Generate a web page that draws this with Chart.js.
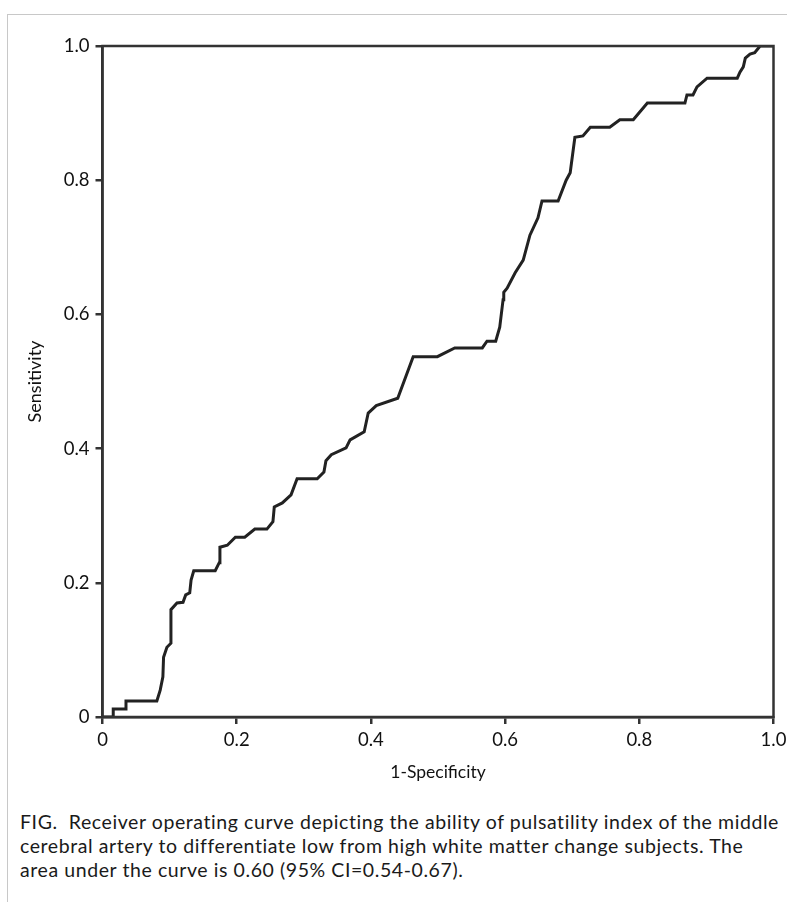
<!DOCTYPE html>
<html>
<head>
<meta charset="utf-8">
<script src="https://cdn.jsdelivr.net/npm/chart.js@4"></script>
<style>
  html, body { margin: 0; padding: 0; background: #fff; }
  body { width: 787px; height: 902px; position: relative; overflow: hidden; font-family: Lato, "Open Sans", sans-serif; }
  #frame { position: absolute; left: 7px; top: 14px; width: 900px; height: 1000px; border-left: 1.5px solid #c8c8c8; border-top: 1.5px solid #c8c8c8; }
  #wrap { position: absolute; left: 0; top: 0; width: 787px; height: 790px; }
  #caption { position: absolute; left: 20px; top: 810px; width: 780px; font-size: 19.5px; letter-spacing: 0.58px; line-height: 24px; color: #1a1a1a; white-space: nowrap; }
</style>
</head>
<body>
<div id="frame"></div>
<div id="wrap"><canvas id="c"></canvas></div>
<div id="caption">FIG.&nbsp; Receiver operating curve depicting the ability of pulsatility index of the middle<br>cerebral artery to differentiate low from high white matter change subjects. The<br>area under the curve is 0.60 (95% CI=0.54-0.67).</div>
<script>
// 1-Specificity (false positive rate) values along the ROC curve
const fpr = [0, 0.016, 0.016, 0.035, 0.035, 0.081, 0.086, 0.090, 0.091, 0.096, 0.102, 0.102, 0.111, 0.120, 0.124, 0.130, 0.132, 0.136, 0.168, 0.174, 0.175, 0.186, 0.198, 0.212, 0.227, 0.245, 0.254, 0.256, 0.268, 0.281, 0.290, 0.320, 0.330, 0.333, 0.341, 0.363, 0.369, 0.390, 0.396, 0.408, 0.440, 0.463, 0.499, 0.525, 0.566, 0.573, 0.586, 0.592, 0.597, 0.598, 0.603, 0.615, 0.627, 0.637, 0.649, 0.655, 0.679, 0.691, 0.697, 0.704, 0.716, 0.727, 0.756, 0.771, 0.791, 0.812, 0.868, 0.871, 0.880, 0.886, 0.901, 0.946, 0.950, 0.955, 0.958, 0.965, 0.972, 0.980, 1.0];
// Sensitivity values along the ROC curve
const tpr = [0, 0, 0.012, 0.012, 0.024, 0.024, 0.040, 0.060, 0.089, 0.104, 0.110, 0.160, 0.170, 0.171, 0.182, 0.185, 0.204, 0.218, 0.218, 0.230, 0.253, 0.256, 0.268, 0.268, 0.280, 0.280, 0.291, 0.313, 0.319, 0.331, 0.355, 0.355, 0.365, 0.382, 0.391, 0.401, 0.413, 0.425, 0.453, 0.464, 0.475, 0.537, 0.537, 0.550, 0.550, 0.560, 0.560, 0.581, 0.622, 0.633, 0.639, 0.662, 0.681, 0.718, 0.744, 0.769, 0.769, 0.800, 0.811, 0.864, 0.866, 0.879, 0.879, 0.890, 0.890, 0.915, 0.915, 0.927, 0.927, 0.939, 0.952, 0.952, 0.961, 0.969, 0.982, 0.988, 0.990, 1.0, 1.0];
const xTicks = ['0', '0.2', '0.4', '0.6', '0.8', '1.0'];
const yTicks = ['0', '0.2', '0.4', '0.6', '0.8', '1.0'];
const xTitle = '1-Specificity';
const yTitle = 'Sensitivity';

const points = fpr.map((x, i) => ({ x: x, y: tpr[i] }));
const FONT = 'Lato, "Open Sans", sans-serif';
const AX = '#333333';

const framePlugin = {
  id: 'frameBox',
  afterDatasetsDraw(chart) {
    const a = chart.chartArea, ctx = chart.ctx;
    ctx.save();
    ctx.strokeStyle = AX;
    ctx.lineWidth = 2.5;
    ctx.strokeRect(a.left, a.top, a.right - a.left, a.bottom - a.top);
    ctx.restore();
  }
};

new Chart(document.getElementById('c'), {
  type: 'scatter',
  data: {
    datasets: [{
      data: points,
      showLine: true,
      borderColor: '#222222',
      borderWidth: 3,
      pointRadius: 0,
      tension: 0,
      fill: false
    }]
  },
  options: {
    responsive: true,
    maintainAspectRatio: false,
    animation: false,
    layout: { padding: { top: 46, right: 13.5, left: 0, bottom: 0 } },
    plugins: { legend: { display: false }, tooltip: { enabled: false } },
    scales: {
      x: {
        type: 'linear', min: 0, max: 1,
        afterFit(s) { s.height = 73; s.paddingLeft = 0; s.paddingRight = 0; },
        afterBuildTicks(s) { s.ticks = xTicks.map(v => ({ value: parseFloat(v) })); },
        ticks: {
          callback: (v, i) => xTicks[i],
          color: '#111111', font: { family: FONT, size: 18.5 }, padding: 5, maxRotation: 0
        },
        grid: { drawOnChartArea: false, drawTicks: true, tickLength: 7, color: AX, lineWidth: 2.5 },
        border: { color: AX, width: 2.5 },
        title: { display: true, text: xTitle, color: '#111111', font: { family: FONT, size: 17.5 }, padding: { top: 0, bottom: 7 } }
      },
      y: {
        type: 'linear', min: 0, max: 1,
        afterFit(s) { s.width = 102.5; s.paddingTop = 0; s.paddingBottom = 0; },
        afterBuildTicks(s) { s.ticks = yTicks.map(v => ({ value: parseFloat(v) })); },
        ticks: {
          callback: (v, i) => yTicks[i],
          color: '#111111', font: { family: FONT, size: 18.5 }, padding: 6
        },
        grid: { drawOnChartArea: false, drawTicks: true, tickLength: 7, color: AX, lineWidth: 2.5 },
        border: { color: AX, width: 2.5 },
        title: { display: true, text: yTitle, color: '#111111', font: { family: FONT, size: 18 }, padding: { top: 24, bottom: 0 } }
      }
    }
  },
  plugins: [framePlugin]
});
</script>
</body>
</html>
